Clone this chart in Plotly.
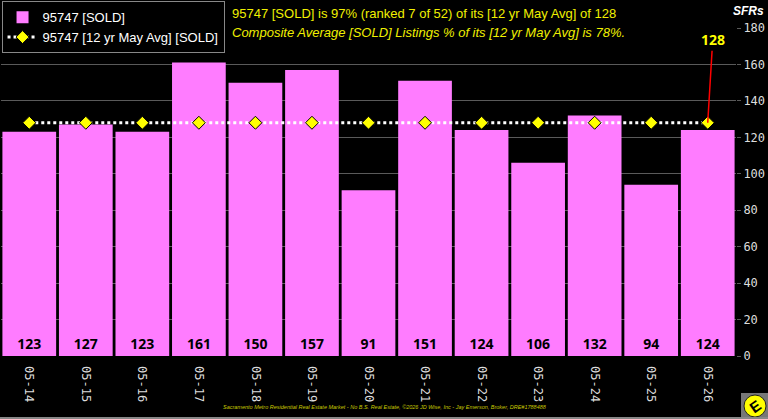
import plotly.graph_objects as go

categories = ["05-14", "05-15", "05-16", "05-17", "05-18", "05-19", "05-20",
              "05-21", "05-22", "05-23", "05-24", "05-25", "05-26"]
sold = [123, 127, 123, 161, 150, 157, 91, 151, 124, 106, 132, 94, 124]
avg = [128] * 13
y_ticks = [0, 20, 40, 60, 80, 100, 120, 140, 160, 180]

W, H = 768, 419
L, R, T, B = 1, 32, 28, 63
PW, PH = W - L - R, H - T - B

def px(x):
    return (x - L) / PW

def py(y):
    return (H - B - y) / PH

fig = go.Figure()
fig.add_trace(go.Bar(
    x=categories, y=sold, name="95747 [SOLD]",
    marker=dict(color="#ff7cff", line=dict(width=0)),
    texttemplate="<b>%{y}</b>", textposition="inside", insidetextanchor="start",
    textfont=dict(family="Open Sans, Arial", size=14, color="black"),
    constraintext="none", textangle=0,
))
fig.add_trace(go.Scatter(
    x=categories, y=avg, name="95747 [12 yr May Avg] [SOLD]", mode="lines+markers",
    line=dict(color="white", width=3, dash="dot"),
    marker=dict(symbol="diamond", size=10, color="#ffff00", line=dict(color="black", width=1)),
))

fig.update_layout(
    width=W, height=H, margin=dict(l=L, r=R, t=T, b=B, autoexpand=False),
    paper_bgcolor="black", plot_bgcolor="black",
    bargap=0.05, showlegend=True,
    legend=dict(xref="container", yref="container", x=0.002, y=0.997,
                xanchor="left", yanchor="top", bgcolor="black",
                bordercolor="#888", borderwidth=1,
                font=dict(family="Arial, Liberation Sans", size=13, color="white"),
                itemwidth=30, tracegroupgap=0),
    xaxis=dict(type="category", tickangle=90, showgrid=False, ticks="",
               tickfont=dict(family="DejaVu Sans Mono", size=12, color="#dddddd"),
               range=[-0.5, 12.5], ticklabelstandoff=9, automargin=False),
    yaxis=dict(side="right", range=[0, 180], tickvals=y_ticks,
               showgrid=True, gridcolor="#5a5a5a", gridwidth=1,
               ticks="outside", ticklen=4, tickcolor="#5a5a5a",
               tickfont=dict(family="DejaVu Sans Mono", size=12, color="#dddddd"),
               zeroline=False, automargin=False),
)

anns = [
    dict(x=px(230), y=py(14), xref="paper", yref="paper", xanchor="left", yanchor="middle",
         text="95747 [SOLD] is 97% (ranked 7 of 52) of its [12 yr May Avg] of 128",
         font=dict(family="Arial, Liberation Sans", size=13, color="#f0f000"), showarrow=False),
    dict(x=px(230), y=py(32), xref="paper", yref="paper", xanchor="left", yanchor="middle",
         text="<i>Composite Average [SOLD] Listings % of its [12 yr May Avg] is 78%.</i>",
         font=dict(family="Arial, Liberation Sans", size=13, color="#f0f000"), showarrow=False),
    dict(x=px(766), y=py(11), xref="paper", yref="paper", xanchor="right", yanchor="middle",
         text="<b><i>SFRs</i></b>",
         font=dict(family="Arial, Liberation Sans", size=12, color="white"), showarrow=False),
    dict(x=categories[-1], y=avg[-1], xref="x", yref="y", text="<b>128</b>",
         showarrow=True, arrowhead=0, arrowcolor="red", arrowwidth=1.5,
         ax=5, ay=-83, font=dict(family="Open Sans, Arial", size=14, color="#ffff00")),
    dict(x=px(385), y=py(407), xref="paper", yref="paper", xanchor="center", yanchor="middle",
         text="<i>Sacramento Metro Residential Real Estate Market - No B.S. Real Estate, ©2026 JD Wise, Inc - Jay Emerson, Broker, DRE#1788488</i>",
         font=dict(family="Arial, Liberation Sans", size=5.5, color="#c8c800"), showarrow=False),
    dict(x=px(755), y=py(406), xref="paper", yref="paper", xanchor="center", yanchor="middle",
         text="<b>E</b>", textangle=-35,
         font=dict(family="Arial, Liberation Sans", size=15, color="black"), showarrow=False),
]
fig.update_layout(annotations=anns)

fig.update_layout(shapes=[
    dict(type="rect", xref="paper", yref="paper", x0=px(741), x1=px(768), y0=py(419), y1=py(393),
         fillcolor="#777777", line=dict(width=0), layer="above"),
    dict(type="circle", xref="paper", yref="paper", x0=px(744), x1=px(766), y0=py(417), y1=py(395),
         fillcolor="#ffff00", line=dict(color="#222", width=1), layer="above"),
    dict(type="line", xref="paper", yref="paper", x0=px(0), x1=px(768), y0=py(418), y1=py(418),
         line=dict(color="#888888", width=2), layer="above"),
])

fig.write_html("out.html")
